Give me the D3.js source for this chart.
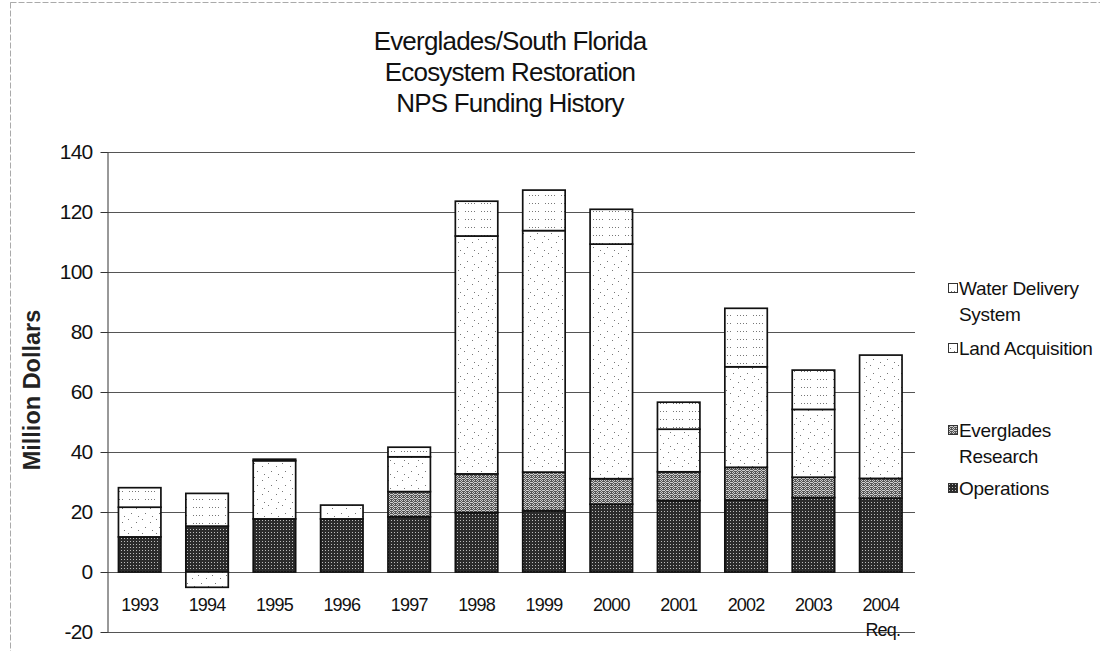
<!DOCTYPE html>
<html><head><meta charset="utf-8">
<script src="https://cdn.jsdelivr.net/npm/d3@7"></script>
<style>
html,body{margin:0;padding:0;background:#fff;}
svg{display:block;font-family:"Liberation Sans",Arial,sans-serif;}
</style></head>
<body>
<svg id="chart" width="1100" height="651"></svg>
<script>
const years = ["1993","1994","1995","1996","1997","1998","1999","2000","2001","2002","2003","2004"];
const seriesNames = ["Operations","Everglades Research","Land Acquisition","Water Delivery System"];
const operations = [11.7,15.3,17.7,17.7,18.4,19.8,20.4,22.6,23.8,24.0,24.8,24.6];
const research   = [0,0,0,0,8.4,12.9,12.9,8.5,9.6,10.9,6.8,6.6];
const landAcq    = [9.9,-5.1,19.4,4.6,11.6,79.3,80.5,78.2,14.2,33.5,22.6,41.1];
const waterDel   = [6.5,10.9,0.5,0,3.2,11.6,13.5,11.6,9.0,19.5,13.1,0];
const yTicks = [-20,0,20,40,60,80,100,120,140];
const titleLines = ["Everglades/South Florida","Ecosystem Restoration","NPS Funding History"];

const svg = d3.select("#chart");
const defs = svg.append("defs");

function pat(id,w,h,bg,dots,dotColor){
  const p = defs.append("pattern").attr("id",id).attr("patternUnits","userSpaceOnUse").attr("width",w).attr("height",h);
  p.append("rect").attr("width",w).attr("height",h).attr("fill",bg);
  dots.forEach(([x,y])=>p.append("rect").attr("x",x).attr("y",y).attr("width",1).attr("height",1).attr("fill",dotColor));
}
pat("pOps",3,3,"#2b2b2b",[[1,1]],"#bbbbbb");
pat("pRes",4,4,"#555555",[[0,0],[2,0],[1,1],[3,2],[2,2],[1,3],[0,2]],"#cccccc");
pat("pLand",14,14,"#ffffff",[[2,1],[10,4],[5,9],[12,12]],"#777");
pat("pWater",16,8,"#ffffff",[[1,3],[4,3],[7,3],[10,3]],"#777");
const fills = {"Operations":"url(#pOps)","Everglades Research":"url(#pRes)","Land Acquisition":"url(#pLand)","Water Delivery System":"url(#pWater)"};

// outer frame
svg.append("rect").attr("x",10.5).attr("y",2.5).attr("width",1095).attr("height",660)
  .attr("fill","none").attr("stroke","#aaa").attr("stroke-width",1).attr("stroke-dasharray","6,2");

const x = d3.scaleBand().domain(years).range([106,914.5]).paddingInner(0.37).paddingOuter(0.185);
const y = d3.scaleLinear().domain([-20,140]).range([632,152]);

// gridlines
svg.append("g").selectAll("line").data(yTicks).join("line")
  .attr("x1",107).attr("x2",915)
  .attr("y1",d=>Math.round(y(d))+0.5).attr("y2",d=>Math.round(y(d))+0.5)
  .attr("stroke","#555").attr("stroke-width",1);

// y axis
const yAxis = d3.axisLeft(y).tickValues(yTicks).tickFormat(d=>String(d)).tickSize(7).tickPadding(8).tickSizeOuter(0);
const ga = svg.append("g").attr("transform","translate(107.5,0)").call(yAxis);
ga.select(".domain").attr("stroke","#333");
ga.selectAll(".tick line").attr("stroke","#333");
ga.selectAll(".tick text").attr("font-size",21).attr("fill","#111")
  .attr("font-family","'Liberation Sans',Arial,sans-serif").attr("letter-spacing","-0.8");

// stacked data
const rows = years.map((yr,i)=>({year:yr,"Operations":operations[i],"Everglades Research":research[i],"Land Acquisition":landAcq[i],"Water Delivery System":waterDel[i]}));
const stack = d3.stack().keys(seriesNames).offset(d3.stackOffsetDiverging);
const stacked = stack(rows);

svg.append("g").selectAll("g").data(stacked).join("g")
  .attr("fill",d=>fills[d.key])
  .selectAll("rect").data(d=>d.filter(s=>s[1]!==s[0])).join("rect")
  .attr("x",d=>x(d.data.year))
  .attr("width",x.bandwidth())
  .attr("y",d=>y(Math.max(d[0],d[1])))
  .attr("height",d=>Math.abs(y(d[0])-y(d[1])))
  .attr("stroke","#111").attr("stroke-width",1.7);

// x labels
svg.append("g").selectAll("text").data(years).join("text")
  .attr("x",d=>x(d)+x.bandwidth()/2).attr("y",611)
  .attr("text-anchor","middle").attr("font-size",18).attr("letter-spacing","-0.8").attr("fill","#111")
  .text(d=>d);
svg.append("text").attr("x",x("2004")+x.bandwidth()/2+2).attr("y",636)
  .attr("text-anchor","middle").attr("font-size",18).attr("letter-spacing","-0.8").attr("fill","#111").text("Req.");

// y title
svg.append("text").attr("transform","translate(40,390) rotate(-90)")
  .attr("text-anchor","middle").attr("font-size",23.5).attr("font-weight","bold").attr("fill","#222")
  .text("Million Dollars");

// title
svg.append("g").selectAll("text").data(titleLines).join("text")
  .attr("x",510).attr("y",(d,i)=>50+i*31)
  .attr("text-anchor","middle").attr("font-size",26).attr("letter-spacing","-0.8").attr("fill","#111")
  .text(d=>d);

// legend
const legendItems = [
  {key:"Water Delivery System", lines:["Water Delivery","System"], y:288},
  {key:"Land Acquisition", lines:["Land Acquisition"], y:348},
  {key:"Everglades Research", lines:["Everglades","Research"], y:430},
  {key:"Operations", lines:["Operations"], y:488}
];
const lg = svg.append("g").selectAll("g").data(legendItems).join("g");
lg.append("rect").attr("x",948.5).attr("y",d=>d.y-4.5).attr("width",9).attr("height",9)
  .attr("fill",d=>fills[d.key]).attr("stroke","#333").attr("stroke-width",1);
lg.each(function(d){
  const g = d3.select(this);
  d.lines.forEach((t,i)=>{
    g.append("text").attr("x",959).attr("y",d.y+7+i*26).attr("font-size",19)
      .attr("letter-spacing","-0.3").attr("fill","#111").text(t);
  });
});
</script>
</body></html>
